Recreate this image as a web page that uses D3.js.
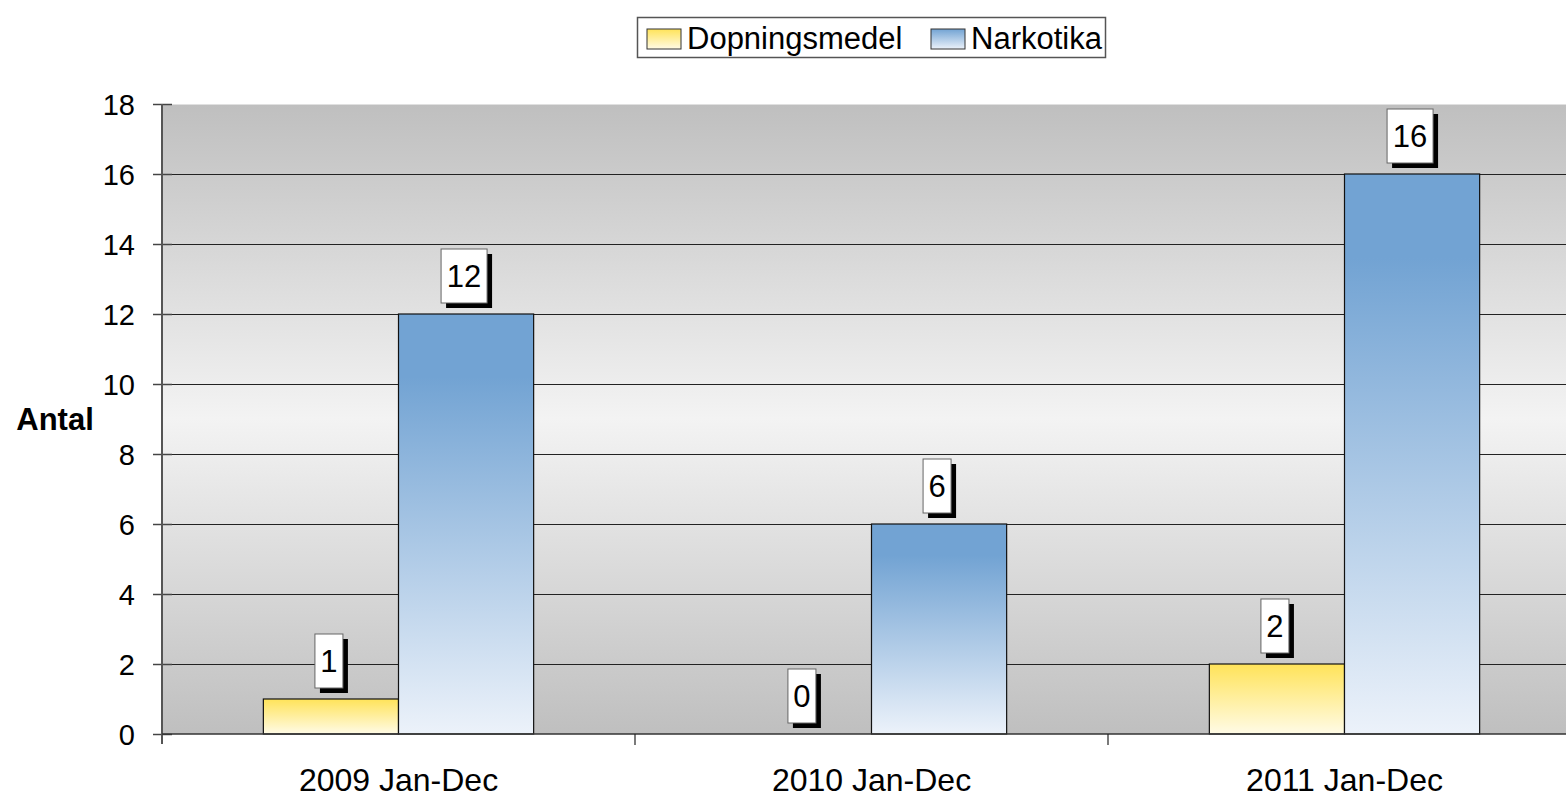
<!DOCTYPE html>
<html>
<head>
<meta charset="utf-8">
<script src="https://cdn.jsdelivr.net/npm/d3@7"></script>
<style>
  body { margin: 0; background: #fff; }
  svg { display: block; font-family: Arial, "Liberation Sans", sans-serif; }
</style>
</head>
<body>
<svg id="chart" width="1566" height="798"></svg>
<script>
// Data
const categories = ['2009 Jan-Dec', '2010 Jan-Dec', '2011 Jan-Dec'];
const seriesNames = ['Dopningsmedel', 'Narkotika'];
const dopningsmedel = [1, 0, 2];
const narkotika = [12, 6, 16];
const yTicks = [0, 2, 4, 6, 8, 10, 12, 14, 16, 18];

const svg = d3.select('#chart');
const margin = {top: 104, left: 162, bottom: 64, plotWidth: 1419};
const plotH = 798 - margin.top - margin.bottom;

const defs = svg.append('defs');

// plot background: grey -> light -> grey
const bg = defs.append('linearGradient').attr('id', 'bg-grad')
  .attr('x1', 0).attr('y1', 0).attr('x2', 0).attr('y2', 1);
bg.append('stop').attr('offset', '0%').attr('stop-color', '#bfbfbf');
bg.append('stop').attr('offset', '50%').attr('stop-color', '#f3f3f3');
bg.append('stop').attr('offset', '100%').attr('stop-color', '#bfbfbf');

const seriesColors = [
  {top: '#ffe359', bottom: '#fffbe6'},
  {top: '#72a3d3', bottom: '#ecf2fa'}
];
seriesColors.forEach((c, i) => {
  const gr = defs.append('linearGradient').attr('id', 'bar-grad-' + i)
    .attr('x1', 0).attr('y1', 0).attr('x2', 0).attr('y2', 1);
  gr.append('stop').attr('offset', '0%').attr('stop-color', c.top);
  gr.append('stop').attr('offset', i === 1 ? '15%' : '0%').attr('stop-color', c.top);
  gr.append('stop').attr('offset', '100%').attr('stop-color', c.bottom);
  // small swatch version
  const sw = defs.append('linearGradient').attr('id', 'sw-grad-' + i)
    .attr('x1', 0).attr('y1', 0).attr('x2', 0).attr('y2', 1);
  sw.append('stop').attr('offset', '0%').attr('stop-color', c.top);
  sw.append('stop').attr('offset', '100%').attr('stop-color', c.bottom);
});

const x0 = d3.scaleBand()
  .domain(categories)
  .range([margin.left, margin.left + margin.plotWidth])
  .paddingInner(0)
  .paddingOuter(0);

const x1 = d3.scaleBand()
  .domain(seriesNames)
  .range([0, x0.bandwidth()])
  .paddingOuter(0.75)
  .paddingInner(0);

const y = d3.scaleLinear()
  .domain([0, 18])
  .range([margin.top + plotH, margin.top]);

// background
svg.append('rect')
  .attr('x', margin.left).attr('y', margin.top)
  .attr('width', margin.plotWidth).attr('height', plotH)
  .attr('fill', 'url(#bg-grad)');

// gridlines
svg.append('g')
  .selectAll('line')
  .data(yTicks.filter(d => d > 0))
  .join('line')
  .attr('x1', margin.left).attr('x2', margin.left + margin.plotWidth)
  .attr('y1', d => y(d) + 0.5).attr('y2', d => y(d) + 0.5)
  .attr('stroke', d => d === 18 ? '#e0e0e0' : '#222')
  .attr('stroke-width', 1.2);

// bars
const rows = categories.map((c, i) => ({cat: c, values: [dopningsmedel[i], narkotika[i]]}));
const groups = svg.append('g').selectAll('g')
  .data(rows)
  .join('g')
  .attr('transform', d => `translate(${x0(d.cat)},0)`);

groups.selectAll('rect')
  .data(d => d.values.map((v, i) => ({series: seriesNames[i], idx: i, value: v})))
  .join('rect')
  .filter(d => d.value > 0)
  .attr('x', d => x1(d.series))
  .attr('y', d => y(d.value))
  .attr('width', x1.bandwidth())
  .attr('height', d => y(0) - y(d.value))
  .attr('fill', d => `url(#bar-grad-${d.idx})`)
  .attr('stroke', '#111')
  .attr('stroke-width', 1.2);

// data labels with shadow box
const labels = groups.selectAll('g.lbl')
  .data(d => d.values.map((v, i) => ({series: seriesNames[i], value: v})))
  .join('g')
  .attr('class', 'lbl')
  .attr('transform', d => `translate(${x1(d.series) + x1.bandwidth() / 2 - 2},${y(d.value) - 11})`);

labels.each(function(d) {
  const g = d3.select(this);
  const w = String(d.value).length > 1 ? 46 : 28;
  const h = 54;
  g.append('rect')
    .attr('x', -w / 2 + 5).attr('y', -h + 5)
    .attr('width', w).attr('height', h)
    .attr('fill', '#000');
  g.append('rect')
    .attr('x', -w / 2).attr('y', -h)
    .attr('width', w).attr('height', h)
    .attr('fill', '#fff')
    .attr('stroke', '#666').attr('stroke-width', 1);
  g.append('text')
    .attr('x', 0).attr('y', -16)
    .attr('text-anchor', 'middle')
    .attr('font-size', 31)
    .attr('fill', '#000')
    .text(d.value);
});

// y axis
const yAxis = svg.append('g')
  .attr('transform', `translate(${margin.left},0)`)
  .call(d3.axisLeft(y).tickValues(yTicks).tickSize(9).tickPadding(18))
  .call(g => g.select('.domain').remove());
yAxis.selectAll('.tick line').attr('x2', -9).attr('x1', 10).attr('stroke', '#444').attr('stroke-width', 1.5);
yAxis.selectAll('.tick text')
  .attr('font-size', 29).attr('fill', '#000')
  .attr('font-family', 'Arial, "Liberation Sans", sans-serif')
  .attr('dy', '0.36em');
svg.append('line')
  .attr('x1', margin.left).attr('x2', margin.left)
  .attr('y1', margin.top).attr('y2', y(0) + 10)
  .attr('stroke', '#555').attr('stroke-width', 2);

// x axis
const xAxis = svg.append('g')
  .attr('transform', `translate(0,${y(0)})`)
  .call(d3.axisBottom(x0).tickSize(0).tickPadding(34))
  .call(g => g.select('.domain').remove());
xAxis.selectAll('.tick text')
  .attr('font-size', 32).attr('fill', '#000')
  .attr('font-family', 'Arial, "Liberation Sans", sans-serif')
  .attr('dy', '0.71em');
svg.append('line')
  .attr('x1', margin.left).attr('x2', margin.left + margin.plotWidth)
  .attr('y1', y(0)).attr('y2', y(0))
  .attr('stroke', '#333').attr('stroke-width', 1.5);
svg.append('g').selectAll('line')
  .data(categories.slice(1))
  .join('line')
  .attr('x1', d => x0(d)).attr('x2', d => x0(d))
  .attr('y1', y(0)).attr('y2', y(0) + 11)
  .attr('stroke', '#222').attr('stroke-width', 1.2);

// y axis title
svg.append('text')
  .attr('x', 55).attr('y', y(9))
  .attr('dy', '0.36em')
  .attr('text-anchor', 'middle')
  .attr('font-size', 31).attr('font-weight', 'bold')
  .text('Antal');

// legend
const legend = svg.append('g');
legend.append('rect')
  .attr('x', 637.5).attr('y', 17.5).attr('width', 468).attr('height', 40)
  .attr('fill', '#fff').attr('stroke', '#555').attr('stroke-width', 1.5);
const legendX = [647, 931];
seriesNames.forEach((name, i) => {
  legend.append('rect')
    .attr('x', legendX[i]).attr('y', 29).attr('width', 34).attr('height', 20)
    .attr('fill', `url(#sw-grad-${i})`)
    .attr('stroke', '#333').attr('stroke-width', 1);
  legend.append('text')
    .attr('x', legendX[i] + 40).attr('y', 49)
    .attr('font-size', 31)
    .text(name);
});
</script>
</body>
</html>
